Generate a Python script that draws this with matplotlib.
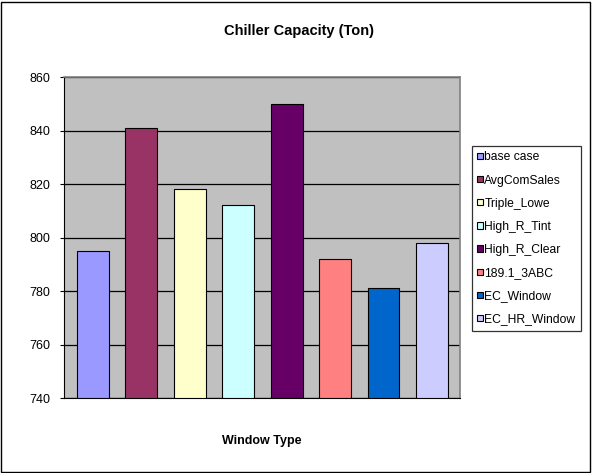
import matplotlib
matplotlib.use("Agg")
import matplotlib.pyplot as plt
from matplotlib.patches import Rectangle

plt.rcParams.update({"font.family": ["Liberation Sans", "DejaVu Sans"], "font.size": 9})

# data
series = ["base case", "AvgComSales", "Triple_Lowe", "High_R_Tint",
          "High_R_Clear", "189.1_3ABC", "EC_Window", "EC_HR_Window"]
capacity = [795, 841, 818, 812, 850, 792, 781, 798]
colors = ["#9999FF", "#993366", "#FFFFCC", "#CCFFFF",
          "#660066", "#FF8080", "#0066CC", "#CCCCFF"]
yticks = [740, 760, 780, 800, 820, 840, 860]

W, H = 592, 473
fig = plt.figure(figsize=(W / 100, H / 100), dpi=100)
fig.patch.set_facecolor("white")
fig.add_artist(Rectangle((1 / W, 1 / H), 1 - 3 / W, 1 - 3 / H, transform=fig.transFigure,
                         fill=False, ec="black", lw=1))

ax = fig.add_axes([64 / W, (H - 398) / H, 396 / W, 321 / H])
ax.set_facecolor("#C0C0C0")

bars = []
for i, (name, v, c) in enumerate(zip(series, capacity, colors)):
    b = ax.bar(i, v - 740, bottom=740, width=0.66, color=c, edgecolor="black",
               linewidth=0.8, label=name, zorder=3)
    bars.append(b)

ax.set_ylim(740, 860)
ax.set_xlim(-0.60, 7.58)
ax.set_yticks(yticks)
ax.set_xticks([])
ax.yaxis.grid(True, color="black", lw=0.9, zorder=1)
ax.set_axisbelow(True)
for s in ["top", "right"]:
    ax.spines[s].set_color("#808080")
    ax.spines[s].set_linewidth(1.2)
ax.spines["left"].set_color("black")
ax.spines["bottom"].set_color("black")
ax.tick_params(axis="y", direction="out", length=3, width=0.8, pad=7, labelsize=9)

fig.text(299 / W, 1 - 31 / H, "Chiller Capacity (Ton)", ha="center", va="center",
         fontsize=10.5, fontweight="bold")
fig.text(262 / W, 1 - 441 / H, "Window Type", ha="center", va="center",
         fontsize=9, fontweight="bold")

leg = fig.legend(handles=[b[0] for b in bars], labels=series,
                 loc="upper left", bbox_to_anchor=(472 / W, 1 - 146 / H),
                 frameon=True, fancybox=False, edgecolor="black", fontsize=8.7,
                 handlelength=0.42, handleheight=0.42, handletextpad=0.15,
                 labelspacing=0.92, borderpad=0.45, borderaxespad=0)
leg.get_frame().set_linewidth(0.9)

fig.savefig("out.png", dpi=100)
